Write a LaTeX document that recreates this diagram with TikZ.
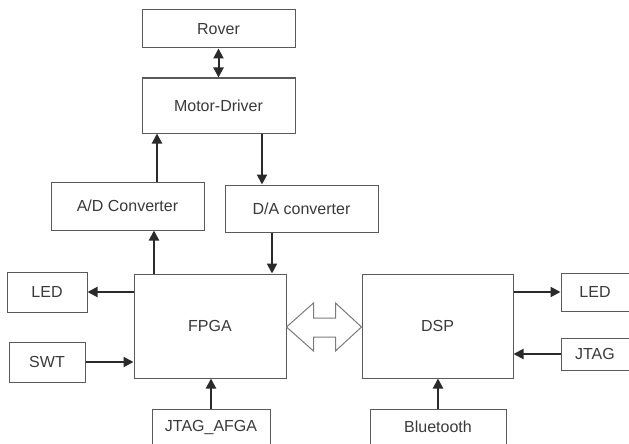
\documentclass[tikz,border=0pt]{standalone}
\usepackage{fontspec}
\setmainfont{Liberation Sans}
\usetikzlibrary{arrows.meta,calc}
\definecolor{boxgray}{HTML}{5A5A5A}
\definecolor{linegray}{HTML}{2A2A2A}
\definecolor{txtgray}{HTML}{3A3A3A}
\begin{document}
\begin{tikzpicture}[x=1pt,y=-1pt,
  blk/.style={draw=boxgray, line width=1pt, inner sep=0pt, text=txtgray,
    font=\fontsize{16}{18}\selectfont},
  conn/.style={draw=linegray, line width=2pt, -{Triangle[length=10pt,width=10pt]}},
  biconn/.style={draw=linegray, line width=2pt, {Triangle[length=10pt,width=10pt]}-{Triangle[length=10pt,width=10pt]}},
  bigarrow/.style={draw=boxgray!80, line width=1pt, fill=white}]
\useasboundingbox (0,0) rectangle (629,444);
\clip (0,0) rectangle (629,444);
\fill[white] (0,0) rectangle (629,444);

\node[blk, minimum width=153pt, minimum height=38pt] (rover) at (218.5,29) {Rover};
\node[blk, minimum width=153pt, minimum height=55pt] (motor) at (218.5,105.5) {Motor-Driver};
\node[blk, minimum width=153pt, minimum height=48pt] (ad) at (127.5,206) {A/D Converter};
\node[blk, minimum width=153pt, minimum height=47pt] (da) at (301.5,208.5) {D/A converter};
\node[blk, minimum width=80pt, minimum height=40pt] (ledL) at (47,292) {LED};
\node[blk, minimum width=76pt, minimum height=40pt] (swt) at (47,362) {SWT};
\node[blk, minimum width=152pt, minimum height=104pt] (fpga) at (210,326) {FPGA};
\node[blk, minimum width=151pt, minimum height=104pt] (dsp) at (437.5,326) {DSP};
\node[blk, minimum width=68pt, minimum height=38pt] (ledR) at (595,292) {LED};
\node[blk, minimum width=68pt, minimum height=32pt] (jtag) at (595,354) {JTAG};
\node[blk, minimum width=118pt, minimum height=36pt] (jafga) at (211,427) {JTAG\_AFGA};
\node[blk, minimum width=136pt, minimum height=36pt] (bt) at (438,427) {Bluetooth};

\draw[biconn] (rover.south) -- (motor.north);
\draw[conn] (ad.north -| 157,0) -- (motor.south -| 157,0);
\draw[conn] (motor.south -| 262,0) -- (da.north -| 262,0);
\draw[conn] (fpga.north -| 154,0) -- (ad.south -| 154,0);
\draw[conn] (da.south -| 272,0) -- (fpga.north -| 272,0);
\draw[conn] (fpga.west |- 0,292) -- (ledL.east |- 0,292);
\draw[conn] (swt.east |- 0,362) -- (fpga.west |- 0,362);
\draw[conn] (jafga.north) -- (fpga.south -| jafga.north);
\draw[conn] (bt.north) -- (dsp.south -| bt.north);
\draw[conn] (dsp.east |- 0,292) -- (ledR.west |- 0,292);
\draw[conn] (jtag.west) -- (dsp.east |- jtag.west);

\coordinate (tipL) at (fpga.east |- 0,327);
\coordinate (tipR) at (dsp.west |- 0,327);
\draw[bigarrow] (tipL) -- ++(27,-24) -- ++(0,15) -- ($(tipR)+(-26,-9)$) -- ++(0,-15) -- (tipR)
  -- ++(-26,24) -- ++(0,-14) -- ($(tipL)+(27,10)$) -- ++(0,14) -- cycle;
\end{tikzpicture}
\end{document}
